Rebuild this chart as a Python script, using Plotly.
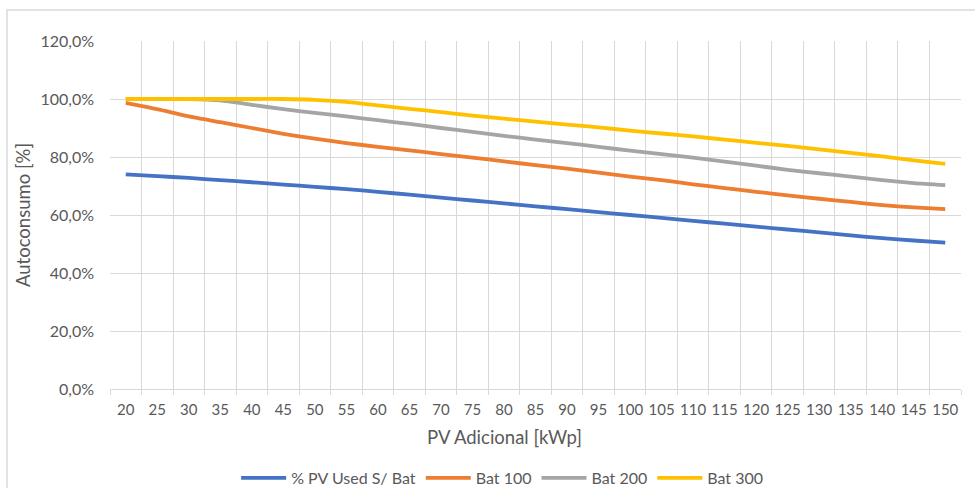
import plotly.graph_objects as go

# PV adicional (kWp) categories
pv_kwp = [20, 25, 30, 35, 40, 45, 50, 55, 60, 65, 70, 75, 80, 85, 90, 95,
          100, 105, 110, 115, 120, 125, 130, 135, 140, 145, 150]
categories = [str(v) for v in pv_kwp]

# Autoconsumo (%) per scenario
pv_used_sem_bat = [74.0, 73.4, 72.8, 72.0, 71.3, 70.5, 69.7, 68.9, 68.0, 67.0,
                   66.0, 65.0, 64.0, 63.0, 62.0, 61.0, 60.0, 59.0, 58.0, 57.0,
                   56.0, 55.0, 54.0, 53.0, 52.0, 51.2, 50.5]
bat_100 = [98.7, 96.5, 94.0, 92.0, 90.0, 88.0, 86.3, 84.8, 83.5, 82.3,
           81.0, 79.8, 78.5, 77.2, 76.0, 74.6, 73.2, 72.0, 70.6, 69.3,
           68.0, 66.8, 65.6, 64.5, 63.4, 62.6, 62.0]
bat_200 = [100.0, 100.0, 100.0, 99.5, 98.0, 96.5, 95.2, 94.0, 92.7, 91.4,
           90.0, 88.7, 87.3, 86.0, 84.8, 83.5, 82.2, 81.0, 79.8, 78.4,
           77.0, 75.6, 74.4, 73.2, 72.0, 71.0, 70.3]
bat_300 = [100.0, 100.0, 100.0, 100.0, 100.0, 100.0, 99.7, 99.0, 97.8, 96.6,
           95.5, 94.3, 93.2, 92.2, 91.2, 90.2, 89.1, 88.1, 87.1, 86.0,
           84.9, 83.8, 82.6, 81.4, 80.2, 78.8, 77.6]

series_names = ["% PV Used S/ Bat", "Bat 100", "Bat 200", "Bat 300"]
series_values = [pv_used_sem_bat, bat_100, bat_200, bat_300]
series_colors = ["#4472C4", "#ED7D31", "#A5A5A5", "#FFC000"]

y_ticks = [0, 20, 40, 60, 80, 100, 120]
y_ticktext = [f"{v:.1f}%".replace(".", ",") for v in y_ticks]

FONT = "Lato, 'Open Sans', sans-serif"
TEXT = "#595959"
GRID = "#D9D9D9"

fig = go.Figure()
for name, vals, color in zip(series_names, series_values, series_colors):
    fig.add_trace(go.Scatter(
        x=categories, y=vals, name=name, mode="lines",
        line=dict(color=color, width=3.8, shape="spline", smoothing=0.6),
    ))

fig.update_layout(
    width=975, height=488,
    margin=dict(l=110, r=14, t=41, b=99),
    paper_bgcolor="white", plot_bgcolor="white",
    font=dict(family=FONT, size=15, color=TEXT),
    showlegend=True,
    legend=dict(orientation="h", xref="container", yref="container",
                x=0.515, xanchor="center", y=0.0205, yanchor="middle",
                font=dict(size=16, color=TEXT),
                itemwidth=45, traceorder="normal"),
    xaxis=dict(
        type="category", tickson="boundaries", range=[-0.5, 26.5],
        tickangle=0,
        showgrid=True, gridcolor=GRID, gridwidth=1,
        ticks="outside", ticklen=5, tickcolor=GRID,
        showline=True, linecolor=GRID,
        tickfont=dict(size=15, color=TEXT),
        ticklabelstandoff=7,
        automargin=False,
    ),
    yaxis=dict(
        range=[0, 120], tickmode="array", tickvals=y_ticks, ticktext=y_ticktext,
        showgrid=True, gridcolor=GRID, gridwidth=1,
        zeroline=False, showline=False,
        tickfont=dict(size=16, color=TEXT),
        ticklabelstandoff=15,
        title=dict(text="Autoconsumo [%]", font=dict(size=18.5, color=TEXT),
                   standoff=4),
        automargin=False,
    ),
)

# x-axis title
fig.add_annotation(text="PV Adicional [kWp]", xref="paper", yref="paper",
                   x=0.464, y=-0.138, xanchor="center", yanchor="middle",
                   showarrow=False, font=dict(size=18.5, color=TEXT))

# chart-area border
fig.add_shape(type="rect", xref="paper", yref="paper",
              x0=-0.121, x1=1.03, y0=-0.31, y1=1.089,
              line=dict(color=GRID, width=1.5), fillcolor="rgba(0,0,0,0)",
              layer="below")

fig.write_html("out.html")
